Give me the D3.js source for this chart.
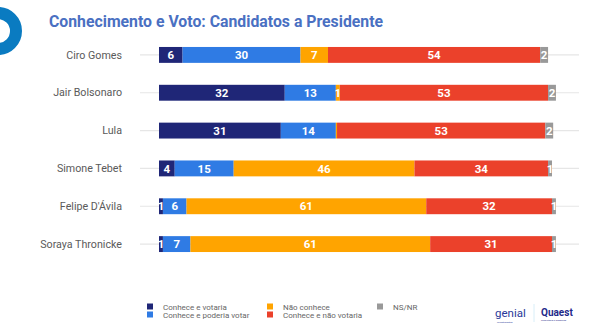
<!DOCTYPE html>
<html><head><meta charset="utf-8">
<script src="https://cdn.jsdelivr.net/npm/d3@7"></script>
<style>body{margin:0;background:#fff;}svg{display:block;font-family:Roboto,"Noto Sans",sans-serif;}</style>
</head><body><svg id="c" width="597" height="330"></svg>
<script>
const candidates = ["Ciro Gomes","Jair Bolsonaro","Lula","Simone Tebet","Felipe D'Ávila","Soraya Thronicke"];
const seriesNames = ["Conhece e votaria","Conhece e poderia votar","Não conhece","Conhece e não votaria","NS/NR"];
const colors = ["#1f2677","#2f7be4","#ffa400","#eb412b","#999999"];
const conheceVotaria = [6,32,31,4,1,1];
const conhecePoderia = [30,13,14,15,6,7];
const naoConhece = [7,1,0.3,46,61,61];
const conheceNaoVotaria = [54,53,53,34,32,31];
const nsnr = [2,2,2,1,1,1];
const labelsShown = [
  ["6","30","7","54","2"],
  ["32","13","1","53","2"],
  ["31","14","","53","2"],
  ["4","15","46","34","1"],
  ["1","6","61","32","1"],
  ["1","7","61","31","1"]
];
const series = [conheceVotaria, conhecePoderia, naoConhece, conheceNaoVotaria, nsnr];

const svg = d3.select("#c");
// decorative ring
svg.append("circle").attr("cx",-2).attr("cy",31).attr("r",18).attr("fill","none")
  .attr("stroke","#0a7bc1").attr("stroke-width",12);
svg.append("text").attr("x",49).attr("y",27).attr("fill","#4a70c2")
  .attr("font-size",15.8).attr("font-weight","bold").text("Conhecimento e Voto: Candidatos a Presidente");

const x = d3.scaleLinear().domain([0,100]).range([159,552]);
const y = d3.scaleBand().domain(candidates).range([36,263]).paddingInner(0.58).paddingOuter(0.29);

const rows = candidates.map((c,i)=>{
  let acc=0;
  return series.map((s,j)=>{const d={c,j,x0:acc,x1:acc+s[i],label:labelsShown[i][j]};acc+=s[i];return d;});
});

const g = svg.append("g");
// grid lines
g.selectAll("line.grid").data(candidates).join("line")
  .attr("x1",140).attr("x2",579)
  .attr("y1",d=>y(d)+y.bandwidth()/2).attr("y2",d=>y(d)+y.bandwidth()/2)
  .attr("stroke","#e6e6e6").attr("stroke-width",1.2);

// category labels
g.selectAll("text.cat").data(candidates).join("text")
  .attr("x",122).attr("y",d=>y(d)+y.bandwidth()/2).attr("dy","0.35em")
  .attr("text-anchor","end").attr("font-size",10.7).attr("fill","#5a5a5a").text(d=>d);

const segs = rows.flat();
g.selectAll("rect.seg").data(segs).join("rect")
  .attr("x",d=>x(d.x0)).attr("width",d=>x(d.x1)-x(d.x0))
  .attr("y",d=>y(d.c)).attr("height",y.bandwidth())
  .attr("fill",d=>colors[d.j]);
g.selectAll("text.val").data(segs.filter(d=>d.label)).join("text")
  .attr("x",d=>(x(d.x0)+x(d.x1))/2).attr("y",d=>y(d.c)+y.bandwidth()/2).attr("dy","0.36em")
  .attr("text-anchor","middle").attr("font-size",11.5).attr("font-weight","bold").attr("fill","#fff")
  .text(d=>d.label);

// legend
const legPos = [[147,307],[147,315],[267,307],[267,315],[377,307]];
const lg = svg.append("g");
seriesNames.forEach((n,i)=>{
  lg.append("rect").attr("x",legPos[i][0]).attr("y",legPos[i][1]-3.5).attr("width",6).attr("height",6).attr("fill",colors[i]);
  lg.append("text").attr("x",legPos[i][0]+16).attr("y",legPos[i][1]).attr("dy","0.35em")
    .attr("font-size",8).attr("fill","#666").text(n);
});
// logos as text
svg.append("text").attr("x",495).attr("y",317).attr("font-size",11.5).attr("fill","#2a3a9a").text("genial");
svg.append("text").attr("x",497).attr("y",323).attr("font-size",2.5).attr("fill","#2a3a9a").text("investimentos");
svg.append("line").attr("x1",534).attr("x2",534).attr("y1",304).attr("y2",322).attr("stroke","#d8eef8");
svg.append("text").attr("x",541).attr("y",316).attr("font-size",10).attr("font-weight","bold").attr("fill","#1f2a8a").text("Quaest");
svg.append("text").attr("x",541).attr("y",321).attr("font-size",2.5).attr("fill","#1f2a8a").text("consultoria e pesquisa");
</script></body></html>
